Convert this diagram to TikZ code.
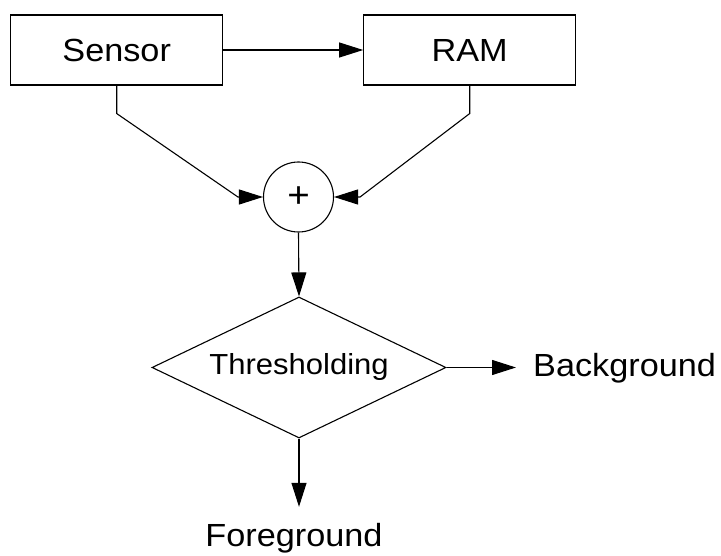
\documentclass[tikz,border=0pt]{standalone}
\usepackage{fontspec}
\setmainfont[FakeStretch=1.07]{Liberation Sans}
\usetikzlibrary{arrows.meta,shapes.geometric}
\begin{document}
\begin{tikzpicture}[x=1pt,y=-1pt,
  every node/.style={font=\fontsize{32}{38}\selectfont},
  block/.style={draw, line width=1.1pt, rectangle, minimum width=212pt, minimum height=70pt, inner sep=0pt},
  adder/.style={draw, line width=1.1pt, circle, minimum size=70pt, inner sep=0pt, font=\fontsize{36}{40}\selectfont},
  decision/.style={draw, line width=1.1pt, diamond, aspect=2.085, minimum width=294pt, minimum height=141pt, inner sep=0pt, font=\fontsize{29}{34}\selectfont},
  outlabel/.style={inner sep=0pt},
  flow/.style={line width=1.1pt, -{Triangle[length=24pt,width=15pt]}}
]
\useasboundingbox (0,0) rectangle (721,556);

% processing blocks
\node[block] (sensor) at (116.7,50) {Sensor};
\node[block] (ram) at (469.7,50) {RAM};
\node[adder] (sum) at (298.5,197) {+};
\node[decision] (thr) at (299,367.5) {Thresholding};

% outputs
\node[outlabel, anchor=base west, inner xsep=17pt] (bg) at (516,376.7) {Background};
\node[outlabel, anchor=base, inner ysep=16.5pt] (fg) at (294,546.7) {Foreground};

% connectors
\draw[flow] (sensor.east) -- (ram.west);
\draw[flow] (sensor.south) -- ++(0,28) -- ([xshift=-25pt]sum.west) -- (sum.west);
\draw[flow] (ram.south) -- ++(0,28) -- ([xshift=26pt]sum.east) -- (sum.east);
\draw[flow] (sum.south) -- (thr.north);
\draw[flow] (thr.east) -- (thr.east -| bg.west);
\draw[flow] (thr.south) -- (thr.south |- fg.north);
\end{tikzpicture}
\end{document}
